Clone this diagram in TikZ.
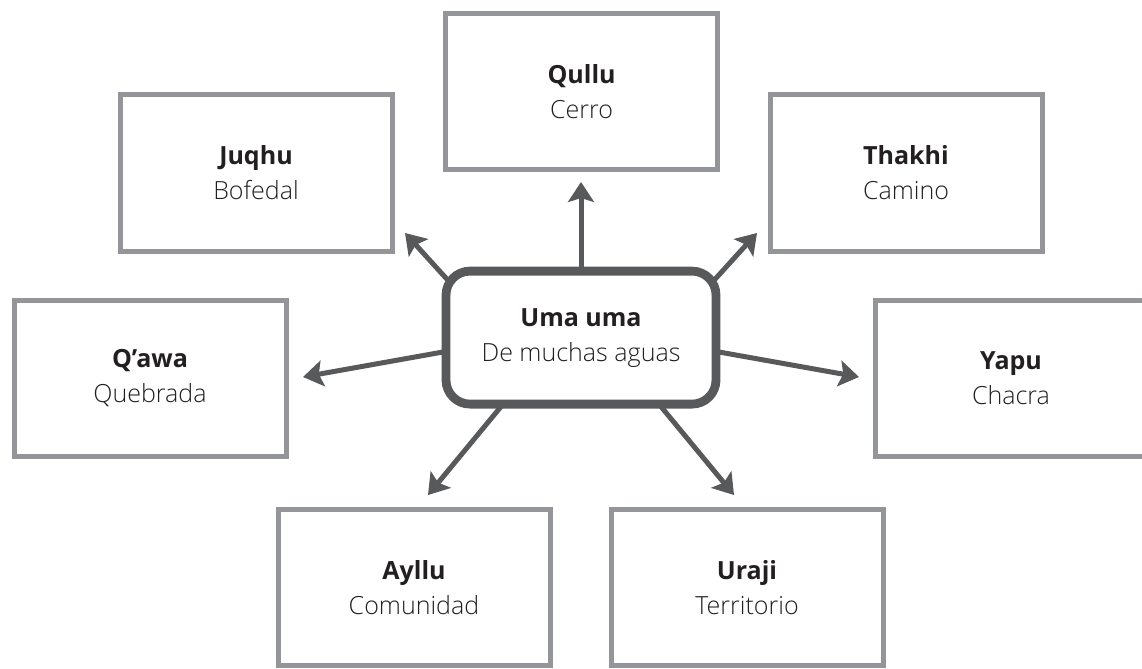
\documentclass[tikz,border=0pt]{standalone}
\usepackage{fontspec}
\setmainfont{Open Sans}
\newfontfamily\lightfont{Open Sans Light}
\usetikzlibrary{arrows.meta,backgrounds}
\definecolor{boxgray}{HTML}{939598}
\definecolor{hubgray}{HTML}{58595B}
\definecolor{inkblack}{HTML}{231F20}
\begin{document}
\begin{tikzpicture}[every node/.style={font=\fontsize{17.8}{24.9}\selectfont, text=inkblack, align=center},
  termbox/.style={draw=boxgray, line width=0.125cm, fill=white, minimum width=6.8cm, minimum height=3.9cm, inner sep=0pt},
  hubbox/.style={draw=hubgray, line width=0.22cm, fill=white, rounded corners=0.6cm, minimum width=6.75cm, minimum height=3.325cm, inner sep=0pt},
  arr/.style={-{Stealth[length=0.5cm, width=0.65cm, inset=0.1cm]}, line width=0.125cm, hubgray, shorten <=-0.3cm}]
\useasboundingbox (0,0) rectangle (28.55,16.7);
\node[hubbox] (ctr) at (14.525,8.26) {\textbf{Uma uma}\\{\lightfont De muchas aguas}};
\node[termbox] (qullu) at (14.54,14.42) {\textbf{Qullu}\\{\lightfont Cerro}};
\node[termbox] (juqhu) at (6.40,12.375) {\textbf{Juqhu}\\{\lightfont Bofedal}};
\node[termbox] (thakhi) at (22.65,12.375) {\textbf{Thakhi}\\{\lightfont Camino}};
\node[termbox] (qawa) at (3.75,7.25) {\textbf{Q’awa}\\{\lightfont Quebrada}};
\node[termbox] (yapu) at (25.275,7.25) {\textbf{Yapu}\\{\lightfont Chacra}};
\node[termbox] (ayllu) at (10.35,2.02) {\textbf{Ayllu}\\{\lightfont Comunidad}};
\node[termbox] (uraji) at (18.675,2.02) {\textbf{Uraji}\\{\lightfont Territorio}};
\coordinate (qullu-tip) at (14.525,12.15);
\coordinate (juqhu-tip) at (10.125,10.875);
\coordinate (thakhi-tip) at (18.925,10.875);
\coordinate (qawa-tip) at (7.575,7.275);
\coordinate (yapu-tip) at (21.475,7.275);
\coordinate (ayllu-tip) at (10.7,4.325);
\coordinate (uraji-tip) at (18.35,4.325);
\coordinate (juqhu-from) at (11.51,9.35);
\coordinate (thakhi-from) at (17.54,9.35);
\begin{scope}[on background layer]
\draw[arr] (ctr.north) -- (qullu-tip);
\draw[arr] (juqhu-from) -- (juqhu-tip);
\draw[arr] (thakhi-from) -- (thakhi-tip);
\draw[arr] (ctr.186) -- (qawa-tip);
\draw[arr] (ctr.-6) -- (yapu-tip);
\draw[arr] (ctr.221) -- (ayllu-tip);
\draw[arr] (ctr.-41) -- (uraji-tip);
\end{scope}
\end{tikzpicture}
\end{document}
